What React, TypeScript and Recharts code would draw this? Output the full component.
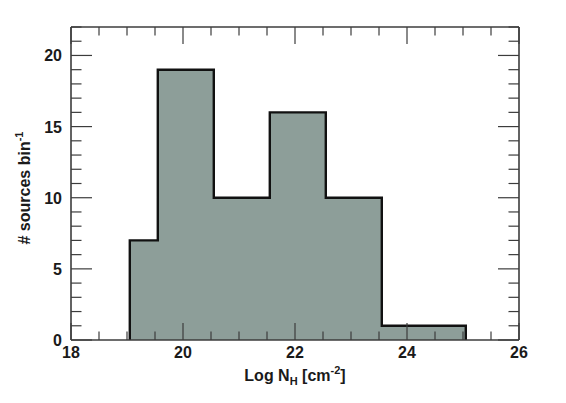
import React from 'react';
import { ComposedChart, Area, XAxis, YAxis } from 'recharts';

// Histogram bin edges (Log N_H) and counts per bin
const binEdges = [19.05, 19.55, 20.55, 21.55, 22.55, 23.55, 25.05];
const binCounts = [7, 19, 10, 16, 10, 1];

const xTicks = [18, 18.5, 19, 19.5, 20, 20.5, 21, 21.5, 22, 22.5, 23, 23.5, 24, 24.5, 25, 25.5, 26];
const xLabelTicks = [18, 20, 22, 24, 26];
const yTicks = [0, 1, 2, 3, 4, 5, 6, 7, 8, 9, 10, 11, 12, 13, 14, 15, 16, 17, 18, 19, 20, 21, 22];
const yLabelTicks = [0, 5, 10, 15, 20];

const lastEdge = binEdges[binEdges.length - 1];
const stepData = [
  { x: binEdges[0], y: 0 },
  ...binCounts.map((c, i) => ({ x: binEdges[i], y: c })),
  { x: lastEdge, y: binCounts[binCounts.length - 1] },
  { x: lastEdge, y: 0 },
];

const FONT = '"Liberation Sans", Arial, Helvetica, sans-serif';
const TICK_COLOR = '#3c3c3c';
const W = 558;
const H = 395;
const MARGIN = { top: 18, right: 46, bottom: 33, left: 33 };

function renderXTick(props: any, side: 'bottom' | 'top') {
  const { x, y, payload } = props;
  const v = payload.value;
  const major = xLabelTicks.includes(v);
  const len = major ? 17 : 8.5;
  const dir = side === 'bottom' ? -1 : 1;
  return (
    <g>
      <line x1={x} x2={x} y1={y} y2={y + dir * len} stroke={TICK_COLOR} strokeWidth={1.2} />
      {side === 'bottom' && major && (
        <text x={x} y={y + 18} textAnchor="middle" fontFamily={FONT} fontWeight="bold" fontSize={16} fill="#1a1a1a">
          {v}
        </text>
      )}
    </g>
  );
}

function renderYTick(props: any, side: 'left' | 'right') {
  const { x, y, payload } = props;
  const v = payload.value;
  const major = yLabelTicks.includes(v);
  const len = major ? 21 : 10.5;
  const dir = side === 'left' ? 1 : -1;
  return (
    <g>
      <line x1={x} x2={x + dir * len} y1={y} y2={y} stroke={TICK_COLOR} strokeWidth={1.2} />
      {side === 'left' && major && (
        <text x={x - 9} y={y + 6} textAnchor="end" fontFamily={FONT} fontWeight="bold" fontSize={16} fill="#1a1a1a">
          {v}
        </text>
      )}
    </g>
  );
}

function axes(visible: boolean) {
  const line = visible ? { stroke: TICK_COLOR, strokeWidth: 1.6 } : false;
  return [
    <XAxis
      key="xb"
      xAxisId="bottom"
      dataKey="x"
      type="number"
      domain={[18, 26]}
      ticks={xTicks}
      interval={0}
      orientation="bottom"
      height={30}
      tickSize={0}
      tickMargin={0}
      tickLine={false}
      axisLine={line}
      tick={visible ? (p: any) => renderXTick(p, 'bottom') : false}
      allowDataOverflow
    />,
    <XAxis
      key="xt"
      xAxisId="top"
      dataKey="x"
      type="number"
      domain={[18, 26]}
      ticks={xTicks}
      interval={0}
      orientation="top"
      height={1}
      tickSize={0}
      tickMargin={0}
      tickLine={false}
      axisLine={line}
      tick={visible ? (p: any) => renderXTick(p, 'top') : false}
      allowDataOverflow
    />,
    <YAxis
      key="yl"
      yAxisId="left"
      type="number"
      domain={[0, 22]}
      ticks={yTicks}
      interval={0}
      orientation="left"
      width={30}
      tickSize={0}
      tickMargin={0}
      tickLine={false}
      axisLine={line}
      tick={visible ? (p: any) => renderYTick(p, 'left') : false}
      allowDataOverflow
    />,
    <YAxis
      key="yr"
      yAxisId="right"
      type="number"
      domain={[0, 22]}
      ticks={yTicks}
      interval={0}
      orientation="right"
      width={1}
      tickSize={0}
      tickMargin={0}
      tickLine={false}
      axisLine={line}
      tick={visible ? (p: any) => renderYTick(p, 'right') : false}
      allowDataOverflow
    />,
  ];
}

export default function App() {
  return (
    <div style={{ position: 'relative', width: W, height: H, fontFamily: FONT }}>
      <div style={{ position: 'absolute', left: 0, top: 0 }}>
        <ComposedChart width={W} height={H} data={stepData} margin={MARGIN}>
          <Area
            type="stepAfter"
            dataKey="y"
            xAxisId="bottom"
            yAxisId="left"
            stroke="#111"
            strokeWidth={2.4}
            fill="#8d9e99"
            fillOpacity={1}
            baseValue={0}
            isAnimationActive={false}
            dot={false}
            activeDot={false}
          />
          {axes(false)}
        </ComposedChart>
      </div>
      <div style={{ position: 'absolute', left: 0, top: 0 }}>
        <ComposedChart width={W} height={H} data={stepData} margin={MARGIN}>
          {axes(true)}
        </ComposedChart>
      </div>
      <div
        style={{
          position: 'absolute',
          left: 63,
          width: 448,
          top: 360,
          textAlign: 'center',
          fontSize: 16,
          lineHeight: '16px',
          fontWeight: 'bold',
          color: '#1a1a1a',
          whiteSpace: 'nowrap',
        }}
      >
        Log N<span style={{ fontSize: 11, position: 'relative', top: 4 }}>H</span> [cm
        <span style={{ fontSize: 11, position: 'relative', top: -7 }}>-2</span>]
      </div>
      <div
        style={{
          position: 'absolute',
          left: 17,
          top: 180,
          transform: 'translate(-50%, -50%) rotate(-90deg)',
          fontSize: 16,
          lineHeight: '16px',
          fontWeight: 'bold',
          color: '#1a1a1a',
          whiteSpace: 'nowrap',
        }}
      >
        # sources bin<span style={{ fontSize: 11, position: 'relative', top: -7 }}>-1</span>
      </div>
    </div>
  );
}
